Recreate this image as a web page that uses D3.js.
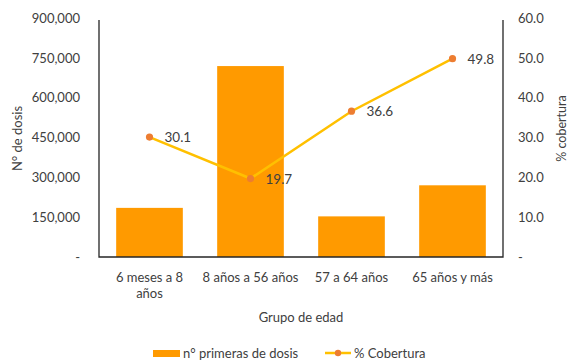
<!DOCTYPE html>
<html>
<head>
<meta charset="utf-8">
<script src="https://cdn.jsdelivr.net/npm/d3@7"></script>
<style>
  html, body { margin: 0; padding: 0; background: #fff; }
  svg { display: block; }
  text { font-family: Lato, "Open Sans", sans-serif; fill: #404040; }
</style>
</head>
<body>
<svg id="chart" width="568" height="360"></svg>
<script>
// Age groups (category labels, "\n" splits lines)
const categories = ["6 meses a 8\naños", "8 años a 56 años", "57 a 64 años", "65 años y más"];
// First doses applied per age group
const doses = [185000, 719000, 153000, 270000];
// Coverage percentage per age group
const coverage = [30.1, 19.7, 36.6, 49.8];
// Axis ticks
const doseTicks = [0, 150000, 300000, 450000, 600000, 750000, 900000];
const pctTicks = [0, 10, 20, 30, 40, 50, 60];

const svg = d3.select("#chart");
const m = { left: 99, right: 503, top: 18, bottom: 257 };
const FS = "13px";

const x = d3.scaleBand().domain(categories).range([m.left, m.right]).paddingInner(0.34).paddingOuter(0.17);
const yL = d3.scaleLinear().domain([0, 900000]).range([m.bottom, m.top]);
const yR = d3.scaleLinear().domain([0, 60]).range([m.bottom, m.top]);

const fmtDose = d => d === 0 ? "-" : d3.format(",")(d);
const fmtPct = d => d === 0 ? "-" : d3.format(".1f")(d);

// Left axis labels
const gL = svg.append("g").attr("transform", `translate(${m.left},0)`)
  .call(d3.axisLeft(yL).tickValues(doseTicks).tickFormat(fmtDose).tickSize(0).tickPadding(19));
gL.select(".domain").remove();
gL.selectAll("text").style("font-size", FS).style("font-family", "Lato, sans-serif").attr("fill", "#404040");

// Right axis labels
const gR = svg.append("g").attr("transform", `translate(${m.right},0)`)
  .call(d3.axisRight(yR).tickValues(pctTicks).tickFormat(fmtPct).tickSize(0).tickPadding(15));
gR.select(".domain").remove();
gR.selectAll("text").style("font-size", FS).style("font-family", "Lato, sans-serif").attr("fill", "#404040");

// Bars
svg.append("g").selectAll("rect").data(doses).join("rect")
  .attr("x", (d, i) => x(categories[i]))
  .attr("width", x.bandwidth())
  .attr("y", d => yL(d))
  .attr("height", d => yL(0) - yL(d))
  .attr("fill", "#FF9A00");

// Frame lines: left, right, bottom
svg.append("path")
  .attr("d", `M${m.left},${m.top + 2}V${m.bottom}H${m.right}V${m.top + 2}`)
  .attr("fill", "none").attr("stroke", "#262626").attr("stroke-width", 1.3);

// Coverage line
const cx = (d, i) => x(categories[i]) + x.bandwidth() / 2;
const line = d3.line().x(cx).y(d => yR(d));
svg.append("path").datum(coverage).attr("d", line)
  .attr("fill", "none").attr("stroke", "#FFC000").attr("stroke-width", 2.5);

svg.append("g").selectAll("circle").data(coverage).join("circle")
  .attr("cx", cx).attr("cy", d => yR(d)).attr("r", 3.6).attr("fill", "#ED7D31");

// Data labels
svg.append("g").selectAll("text").data(coverage).join("text")
  .attr("x", (d, i) => cx(d, i) + 15).attr("y", d => yR(d) + 5)
  .style("font-size", "13.5px").text(d => d3.format(".1f")(d));

// Category labels
const catG = svg.append("g");
categories.forEach((c, i) => {
  const t = catG.append("text").attr("text-anchor", "middle").style("font-size", FS)
    .attr("x", x(c) + x.bandwidth() / 2).attr("y", 282);
  c.split("\n").forEach((s, j) => t.append("tspan").attr("x", x(c) + x.bandwidth() / 2).attr("dy", j ? 16 : 0).text(s));
});

// Axis titles
svg.append("text").attr("text-anchor", "middle").attr("x", (m.left + m.right) / 2).attr("y", 322)
  .style("font-size", FS).text("Grupo de edad");
svg.append("text").attr("text-anchor", "middle")
  .attr("transform", `translate(22,${(m.top + m.bottom) / 2 + 1}) rotate(-90)`)
  .style("font-size", FS).text("N° de dosis");
svg.append("text").attr("text-anchor", "middle")
  .attr("transform", `translate(566,${(m.top + m.bottom) / 2 - 9}) rotate(-90)`)
  .style("font-size", "12.5px").text("% cobertura");

// Legend
const lg = svg.append("g");
lg.append("rect").attr("x", 153).attr("y", 350).attr("width", 27).attr("height", 7).attr("fill", "#FF9A00");
lg.append("text").attr("x", 183).attr("y", 358).style("font-size", FS).text("n° primeras de dosis");
lg.append("line").attr("x1", 325).attr("x2", 351).attr("y1", 353).attr("y2", 353)
  .attr("stroke", "#FFC000").attr("stroke-width", 2.5);
lg.append("circle").attr("cx", 338).attr("cy", 353).attr("r", 3.2).attr("fill", "#ED7D31");
lg.append("text").attr("x", 354).attr("y", 358).style("font-size", FS).text("% Cobertura");
</script>
</body>
</html>
